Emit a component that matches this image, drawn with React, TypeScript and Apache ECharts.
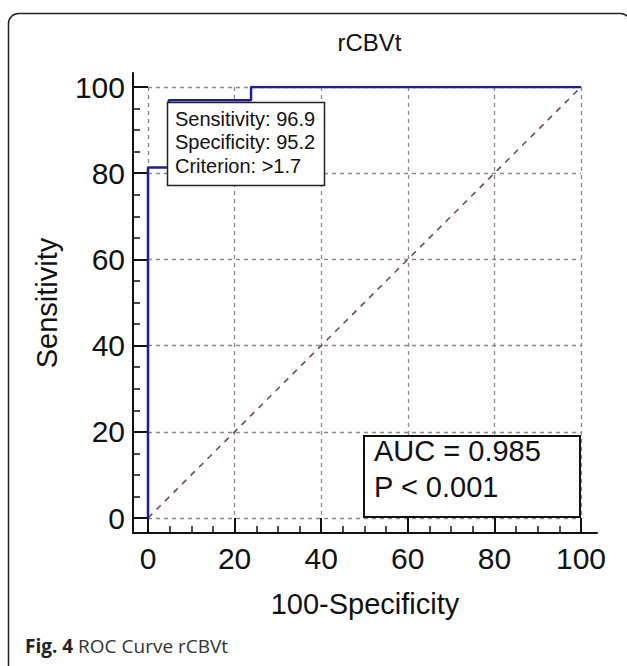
import React, { useEffect, useRef } from "react";
import * as echarts from "echarts";

const rocPoints: [number, number][] = [
  [0, 0],
  [0, 81.3],
  [4.8, 81.3],
  [4.8, 96.9],
  [23.8, 96.9],
  [23.8, 100],
  [100, 100],
];
const diagonalPoints: [number, number][] = [
  [0, 0],
  [100, 100],
];
const majorTicks = [0, 20, 40, 60, 80, 100];
const minorTicks = [5, 10, 15, 25, 30, 35, 45, 50, 55, 65, 70, 75, 85, 90, 95];
const infoLines = ["Sensitivity: 96.9", "Specificity: 95.2", "Criterion: >1.7"];
const aucLines = ["AUC = 0.985", "P < 0.001"];
const titleText = "rCBVt";
const xName = "100-Specificity";
const yName = "Sensitivity";
const captionBold = "Fig. 4";
const captionRest = " ROC Curve rCBVt";

const FONT = "'Liberation Sans', Arial, sans-serif";

export default function App() {
  const ref = useRef<HTMLDivElement>(null);
  useEffect(() => {
    if (!ref.current) return;
    const chart = echarts.init(ref.current, undefined, { renderer: "svg" });

    const plot = { left: 148, top: 87, width: 433, height: 431 };
    const gap = 15; // axis line distance from plot
    const overX = 16; // axis line overhang beyond max (x)
    const overY = 14; // axis line overhang beyond max (y)
    const xPx = plot.width / 100;
    const yPx = plot.height / 100;
    const xMin = -gap / xPx;
    const xMax = 100 + overX / xPx;
    const yMin = -gap / yPx;
    const yMax = 100 + overY / yPx;

    const axisLineStyle = { color: "#111", width: 2 };
    const labelStyle = { fontSize: 30, color: "#111", fontFamily: FONT };
    const nameStyle = { fontSize: 29, color: "#111", fontFamily: FONT };

    const hiddenAxis = (gridIndex: number) => ({
      type: "value" as const,
      gridIndex,
      min: 0,
      max: 100,
      interval: 20,
      axisLine: { show: false, onZero: false },
      axisTick: { show: false },
      axisLabel: { show: false },
      splitLine: { show: true, lineStyle: { color: "#8a8a8a", width: 1.3, type: [4, 4] as any } },
    });

    chart.setOption({
      animation: false,
      backgroundColor: "#fff",
      title: {
        text: titleText,
        left: plot.left + plot.width / 2,
        top: 25,
        textAlign: "center",
        textStyle: { fontSize: 24, fontWeight: "normal", color: "#111", fontFamily: FONT },
      },
      grid: [
        { ...plot },
        {
          left: plot.left - gap,
          top: plot.top - overY,
          width: plot.width + gap + overX,
          height: plot.height + gap + overY,
        },
      ],
      xAxis: [
        hiddenAxis(0),
        {
          type: "value",
          gridIndex: 1,
          min: xMin,
          max: xMax,
          position: "bottom",
          axisLine: { show: true, onZero: false, lineStyle: axisLineStyle },
          axisTick: { show: true, inside: true, length: 15, customValues: majorTicks, lineStyle: axisLineStyle },
          axisLabel: { show: true, margin: 10, customValues: majorTicks, ...labelStyle },
          splitLine: { show: false },
          name: xName,
          nameLocation: "middle",
          nameGap: 56,
          nameTextStyle: nameStyle,
        },
        {
          type: "value",
          gridIndex: 1,
          min: xMin,
          max: xMax,
          position: "bottom",
          axisLine: { show: false, onZero: false },
          axisTick: { show: true, inside: true, length: 7, customValues: minorTicks, lineStyle: { color: "#111", width: 1.5 } },
          axisLabel: { show: false },
          splitLine: { show: false },
        },
      ],
      yAxis: [
        hiddenAxis(0),
        {
          type: "value",
          gridIndex: 1,
          min: yMin,
          max: yMax,
          position: "left",
          axisLine: { show: true, onZero: false, lineStyle: axisLineStyle },
          axisTick: { show: true, inside: true, length: 15, customValues: majorTicks, lineStyle: axisLineStyle },
          axisLabel: { show: true, margin: 8, customValues: majorTicks, ...labelStyle },
          splitLine: { show: false },
          name: yName,
          nameLocation: "middle",
          nameGap: 72,
          nameTextStyle: nameStyle,
        },
        {
          type: "value",
          gridIndex: 1,
          min: yMin,
          max: yMax,
          position: "left",
          axisLine: { show: false, onZero: false },
          axisTick: { show: true, inside: true, length: 7, customValues: minorTicks, lineStyle: { color: "#111", width: 1.5 } },
          axisLabel: { show: false },
          splitLine: { show: false },
        },
      ],
      series: [
        {
          type: "line",
          data: diagonalPoints,
          xAxisIndex: 0,
          yAxisIndex: 0,
          symbol: "none",
          lineStyle: { color: "#6e4f4f", width: 1.6, type: [6, 6] as any },
          z: 3,
        },
        {
          type: "line",
          data: rocPoints,
          xAxisIndex: 0,
          yAxisIndex: 0,
          symbol: "none",
          lineStyle: { color: "#1f1f8f", width: 2.5 },
          z: 4,
        },
      ],
      graphic: [
        {
          type: "rect",
          shape: { x: 8.5, y: 13.5, width: 622, height: 700, r: 10 },
          style: { fill: "none", stroke: "#222", lineWidth: 1.5 },
          z: 1,
        },
        {
          type: "rect",
          shape: { x: 167.5, y: 102.5, width: 157, height: 83 },
          style: { fill: "#fff", stroke: "#222", lineWidth: 1.5 },
          z: 10,
        },
        {
          type: "text",
          x: 175,
          y: 107,
          style: {
            text: infoLines.join("\n"),
            fontSize: 20,
            lineHeight: 23.5,
            fill: "#111",
            fontFamily: FONT,
          },
          z: 11,
        },
        {
          type: "rect",
          shape: { x: 364, y: 436, width: 216, height: 81 },
          style: { fill: "#fff", stroke: "#111", lineWidth: 2 },
          z: 10,
        },
        {
          type: "text",
          x: 374,
          y: 433,
          style: {
            text: aucLines.join("\n"),
            fontSize: 29,
            lineHeight: 36,
            fill: "#111",
            fontFamily: FONT,
          },
          z: 11,
        },
        {
          type: "text",
          x: 25,
          y: 636,
          style: {
            text: "{b|" + captionBold + "}{r|" + captionRest + "}",
            rich: {
              b: { fontSize: 19, fontWeight: "bold", fill: "#222", fontFamily: "'Open Sans', sans-serif" },
              r: { fontSize: 19, fill: "#333", fontFamily: "'Open Sans', sans-serif" },
            },
          },
          z: 11,
        },
      ],
    });
    return () => chart.dispose();
  }, []);
  return <div ref={ref} style={{ position: "absolute", left: 0, top: 0, width: 627, height: 666 }} />;
}
